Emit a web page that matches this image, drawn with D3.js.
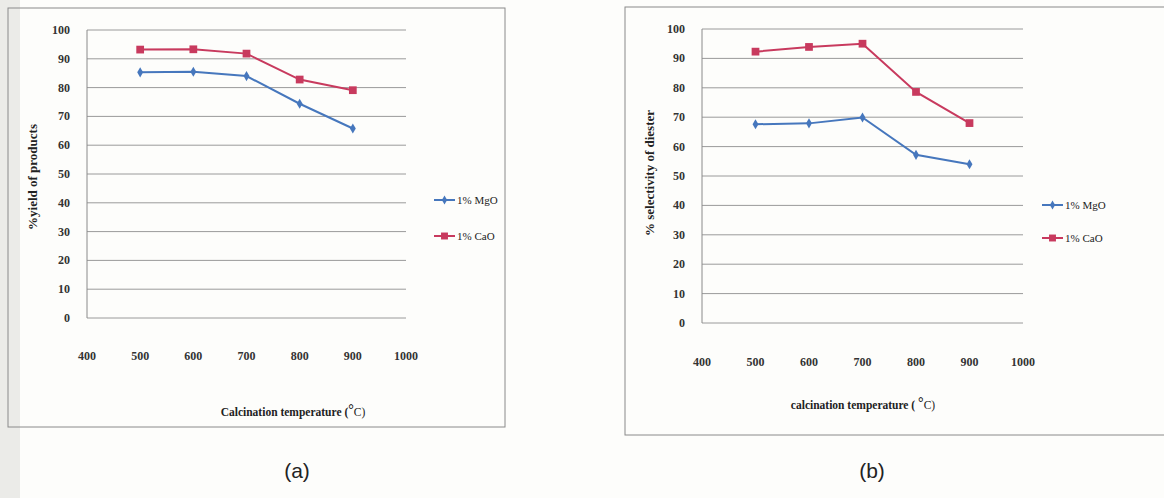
<!DOCTYPE html>
<html>
<head>
<meta charset="utf-8">
<script src="https://cdn.jsdelivr.net/npm/d3@7"></script>
<style>
  body { margin: 0; background: #fdfdfb; }
  svg { display: block; font-family: "Liberation Serif", "DejaVu Serif", serif; }
</style>
</head>
<body>
<div id="chart"></div>
<script>
// values
const temps = [500, 600, 700, 800, 900];
const xTicks = [400, 500, 600, 700, 800, 900, 1000];
const yTicks = [0, 10, 20, 30, 40, 50, 60, 70, 80, 90, 100];
const seriesNames = ["1% MgO", "1% CaO"];

// (a) yield
const yieldMgO = [85.3, 85.5, 84.0, 74.4, 65.8];
const yieldCaO = [93.2, 93.3, 91.8, 82.8, 79.1];

// (b) selectivity
const selMgO = [67.6, 67.9, 69.9, 57.2, 54.0];
const selCaO = [92.3, 93.9, 95.0, 78.6, 68.0];

const W = 1164, H = 498;
const blue = "#4677bd", red = "#c83a5e";

const svg = d3.select("#chart").append("svg")
  .attr("width", W).attr("height", H);

svg.append("rect").attr("width", W).attr("height", H).attr("fill", "#fdfdfb");
// scan shadow on the left edge
svg.append("rect").attr("x", 0).attr("y", 0).attr("width", 20).attr("height", H)
  .attr("fill", "#ebebe8");

function drawPanel(opt) {
  const g = svg.append("g");

  // outer frame
  g.append("rect")
    .attr("x", opt.frame[0]).attr("y", opt.frame[1])
    .attr("width", opt.frame[2]).attr("height", opt.frame[3])
    .attr("fill", "none").attr("stroke", "#8a8a8a").attr("stroke-width", 1);

  const x = d3.scaleLinear().domain([400, 1000]).range([opt.left, opt.right]);
  const y = d3.scaleLinear().domain([0, 100]).range([opt.bottom, opt.top]);

  // grid lines
  g.append("g")
    .selectAll("line")
    .data(yTicks)
    .join("line")
      .attr("x1", opt.left).attr("x2", opt.right)
      .attr("y1", d => y(d)).attr("y2", d => y(d))
      .attr("stroke", "#9a9a9a").attr("stroke-width", 1);

  // y axis line
  g.append("line")
    .attr("x1", opt.left).attr("x2", opt.left)
    .attr("y1", y(0)).attr("y2", y(100))
    .attr("stroke", "#8a8a8a");

  // y tick labels
  g.append("g")
    .selectAll("text")
    .data(yTicks)
    .join("text")
      .attr("x", opt.left - 17)
      .attr("y", d => y(d) + 4)
      .attr("text-anchor", "end")
      .attr("font-size", 12).attr("font-weight", "bold").attr("fill", "#333")
      .text(d => d);

  // x tick labels (no axis line, they float below)
  g.append("g")
    .selectAll("text")
    .data(xTicks)
    .join("text")
      .attr("x", d => x(d))
      .attr("y", opt.xLabelY)
      .attr("text-anchor", "middle")
      .attr("font-size", 12).attr("font-weight", "bold").attr("fill", "#333")
      .text(d => d);

  // axis titles
  const xt = g.append("text")
    .attr("x", opt.xTitleX).attr("y", opt.xTitleY)
    .attr("text-anchor", "middle")
    .attr("font-size", 11.5).attr("font-weight", "bold").attr("fill", "#222");
  xt.append("tspan").text(opt.xTitle);
  xt.append("tspan").attr("font-size", 14).attr("dy", -2).text("°");
  xt.append("tspan").attr("font-weight", "normal").attr("dy", 2).text("C)");

  g.append("text")
    .attr("transform", `translate(${opt.yTitleX},${opt.yTitleY}) rotate(-90)`)
    .attr("text-anchor", "middle")
    .attr("font-size", 13).attr("font-weight", "bold").attr("fill", "#222")
    .text(opt.yTitle);

  const line = d3.line().x((d, i) => x(temps[i])).y(d => y(d));
  const series = [
    {vals: opt.mgo, color: blue, shape: d3.symbolDiamond, size: 30},
    {vals: opt.cao, color: red, shape: d3.symbolSquare, size: 60}
  ];

  series.forEach(s => {
    g.append("path")
      .attr("d", line(s.vals))
      .attr("fill", "none").attr("stroke", s.color).attr("stroke-width", 2);
    g.append("g")
      .selectAll("path")
      .data(s.vals)
      .join("path")
        .attr("transform", (d, i) => `translate(${x(temps[i])},${y(d)})`)
        .attr("d", d3.symbol().type(s.shape).size(s.size))
        .attr("fill", s.color);
  });

  // legend
  series.forEach((s, i) => {
    const ly = opt.legendY[i];
    g.append("line")
      .attr("x1", opt.legendX).attr("x2", opt.legendX + 21)
      .attr("y1", ly).attr("y2", ly)
      .attr("stroke", s.color).attr("stroke-width", 2);
    g.append("path")
      .attr("transform", `translate(${opt.legendX + 10.5},${ly})`)
      .attr("d", d3.symbol().type(s.shape).size(s.size * 0.8))
      .attr("fill", s.color);
    g.append("text")
      .attr("x", opt.legendX + 23).attr("y", ly + 4)
      .attr("font-size", 11).attr("fill", "#222")
      .text(seriesNames[i]);
  });

  svg.append("text")
    .attr("x", opt.tagX).attr("y", 478)
    .attr("text-anchor", "middle")
    .attr("font-family", "Liberation Sans Narrow, Liberation Sans, sans-serif")
    .attr("font-size", 21).attr("fill", "#222")
    .text(opt.tag);
}

drawPanel({
  frame: [8, 8, 497, 419],
  left: 87, right: 406, top: 30, bottom: 318,
  xLabelY: 360, xTitleX: 293, xTitleY: 416,
  xTitle: "Calcination temperature (",
  yTitleX: 37, yTitleY: 177, yTitle: "%yield of products",
  legendX: 434, legendY: [200, 236],
  mgo: yieldMgO, cao: yieldCaO,
  tag: "(a)", tagX: 297
});

drawPanel({
  frame: [625, 7, 560, 428],
  left: 702, right: 1023, top: 29, bottom: 323,
  xLabelY: 366, xTitleX: 863, xTitleY: 409,
  xTitle: "calcination temperature  ( ",
  yTitleX: 654, yTitleY: 173, yTitle: "% selectivity of diester",
  legendX: 1042, legendY: [205, 238],
  mgo: selMgO, cao: selCaO,
  tag: "(b)", tagX: 872
});
</script>
</body>
</html>
